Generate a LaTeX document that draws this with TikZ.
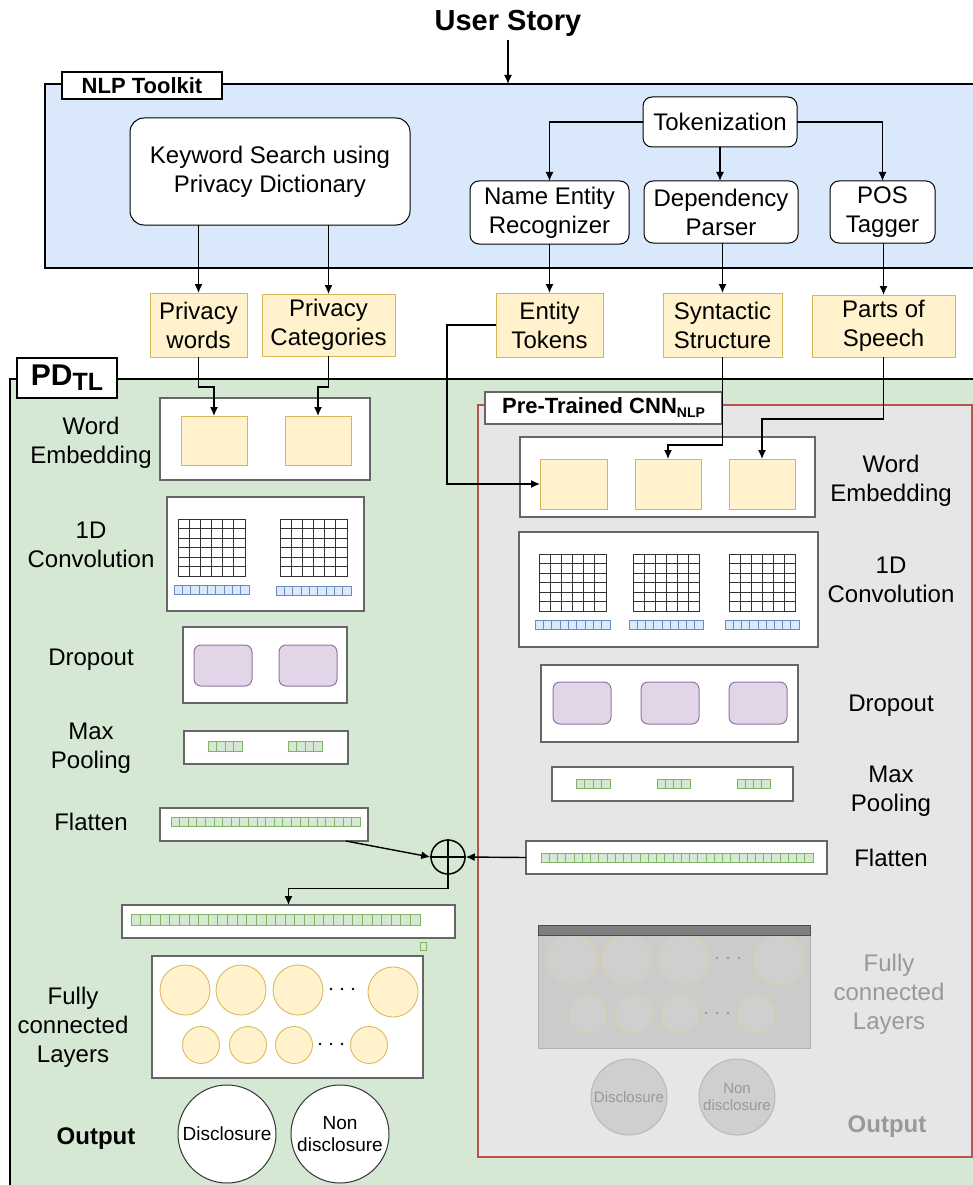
\documentclass[tikz,border=0pt]{standalone}
\usepackage{fontspec}
\setmainfont{Liberation Sans}
\usetikzlibrary{arrows.meta}
\definecolor{nlpblue}{HTML}{DAE8FC}
\definecolor{pdgreen}{HTML}{D5E8D4}
\definecolor{yf}{HTML}{FFF2CC}
\definecolor{yd}{HTML}{D6B656}
\definecolor{pf}{HTML}{E1D5E7}
\definecolor{pdd}{HTML}{9673A6}
\definecolor{gcf}{HTML}{D5E8D4}
\definecolor{gcd}{HTML}{82B366}
\definecolor{bcf}{HTML}{DAE8FC}
\definecolor{bcd}{HTML}{6C8EBF}
\definecolor{cgray}{HTML}{E6E6E6}
\definecolor{cred}{HTML}{B85450}
\definecolor{fgray}{HTML}{999999}
\definecolor{fcbody}{HTML}{CBCBCB}
\definecolor{fccirc}{HTML}{CFCFCF}
\definecolor{fcbar}{HTML}{7F7F7F}
\definecolor{fcring}{HTML}{DCD1A2}
\definecolor{framec}{HTML}{666666}

\newcommand\pdbox[7]{%
  \pgfmathsetmacro\pdcx{(#2+#4)/2}%
  \pgfmathsetmacro\pdcy{(#3+#5)/2}%
  \pgfmathsetmacro\pdw{#4-#2}%
  \pgfmathsetmacro\pdh{#5-#3}%
  \node[#6, minimum width=\pdw pt, minimum height=\pdh pt, inner sep=0pt, outer sep=0pt] (#1) at (\pdcx,\pdcy) {#7};}
\newcommand\pdgrid[4]{%
  \draw[gridline] (#1,#2) rectangle (#3,#4);
  \foreach \i in {1,...,5}{%
    \draw[gridline] ({#1+\i*(#3-#1)/6},#2) -- ({#1+\i*(#3-#1)/6},#4);
    \draw[gridline] (#1,{#2+\i*(#4-#2)/6}) -- (#3,{#2+\i*(#4-#2)/6});}}
\newcommand\pdcells[6]{%
  \foreach \i in {1,...,#5}{%
    \draw[#6] ({#1+(\i-1)*(#3-#1)/#5},#2) rectangle ({#1+\i*(#3-#1)/#5},#4);}}
\newcommand\pddots[3]{%
  \foreach \k in {0,1,2}{\fill[#3] ({#1+\k*11},#2) circle (1.4pt);}}

\begin{document}
\begin{tikzpicture}[x=1pt,y=-1pt,
  arr/.style={draw=black, line width=1.4pt, -{Latex[length=9pt,width=8pt]}},
  frame/.style={draw=framec, line width=1.3pt, fill=white},
  ybox/.style={draw=yd, fill=yf, line width=1pt},
  rbox/.style={draw=black, line width=1pt, fill=white, rounded corners=9pt, align=center, font=\txt},
  tbox/.style={draw=yd, fill=yf, line width=1pt, align=center, font=\txt},
  lbl/.style={align=center, font=\txt},
  glbl/.style={align=center, font=\txt, text=fgray},
  pbox/.style={draw=pdd, fill=pf, line width=1pt, rounded corners=7pt},
  gcell/.style={draw=gcd, fill=gcf, line width=0.6pt},
  bcell/.style={draw=bcd, fill=bcf, line width=0.6pt},
  gridline/.style={draw=black!80, line width=1pt},
  bigc/.style={circle, draw=yd, fill=yf, line width=0.8pt, minimum size=50pt, inner sep=0pt},
  smc/.style={circle, draw=yd, fill=yf, line width=0.8pt, minimum size=37pt, inner sep=0pt},
  gbigc/.style={circle, draw=fcring, fill=fccirc, line width=0.8pt, minimum size=50pt, inner sep=0pt},
  gsmc/.style={circle, draw=fcring, fill=fccirc, line width=0.8pt, minimum size=37pt, inner sep=0pt},
  outc/.style={circle, draw=black!80, fill=white, line width=1pt, minimum size=98pt, inner sep=0pt, align=center, font=\fontsize{19}{22}\selectfont},
  goutc/.style={circle, draw=black!28, fill=black!19, line width=1pt, minimum size=76pt, inner sep=0pt, align=center, font=\fontsize{15}{17}\selectfont, text=fgray}
]
\def\txt{\fontsize{24}{29}\selectfont}
\useasboundingbox (0,0) rectangle (973,1185);
\clip (0,0) rectangle (973,1185);
\fill[white] (0,0) rectangle (973,1185);

% title
\node[font=\bfseries\fontsize{29}{32}\selectfont] (title) at (508,23) {User Story};

% NLP toolkit
\pdbox{nlp}{45}{84}{995}{268}{draw=black, line width=1.4pt, fill=nlpblue}{}
\pdbox{nlpl}{62}{72}{222}{99}{draw=black, line width=1.4pt, fill=white, font=\bfseries\fontsize{22}{24}\selectfont}{NLP Toolkit}
\draw[arr] (title.south) -- (title.south |- nlp.north);

\pdbox{kw}{130}{118}{410}{225}{rbox, rounded corners=14pt}{Keyword Search using\\Privacy Dictionary}
\pdbox{tok}{643}{97}{797}{147}{rbox}{Tokenization}
\pdbox{ner}{470}{181}{629}{244}{rbox}{Name Entity\\Recognizer}
\pdbox{dep}{644}{181}{798}{243}{rbox}{Dependency\\Parser}
\pdbox{pos}{830}{181}{935}{243}{rbox}{POS\\Tagger}
\draw[arr] (tok.west) -| (ner.north);
\draw[arr] (tok.south) -- (tok.south |- dep.north);
\draw[arr] (tok.east) -| (pos.north);

% yellow token boxes
\pdbox{pw}{150}{293}{247}{357}{tbox}{Privacy\\words}
\pdbox{pc}{262}{294}{395}{356}{tbox}{Privacy\\Categories}
\pdbox{et}{496}{293}{603}{357}{tbox}{Entity\\Tokens}
\pdbox{ss}{663}{293}{782}{357}{tbox}{Syntactic\\Structure}
\pdbox{ps}{812}{295}{955}{357}{tbox}{Parts of\\Speech}
\draw[arr] (pw.north |- kw.south) -- (pw.north);
\draw[arr] (pc.north |- kw.south) -- (pc.north);
\draw[arr] (et.north |- ner.south) -- (et.north);
\draw[arr] (ss.north |- dep.south) -- (ss.north);
\draw[arr] (ps.north |- pos.south) -- (ps.north);

% PD_TL container
\pdbox{pd}{10}{379}{995}{1200}{draw=black, line width=1.4pt, fill=pdgreen}{}
\pdbox{pdl}{17}{358}{117}{398}{draw=black, line width=1.4pt, fill=white}{\bfseries\fontsize{30}{30}\selectfont PD\raisebox{-5pt}{\fontsize{25}{25}\selectfont TL}}

% pre-trained container
\pdbox{cnn}{478}{405}{972}{1157}{draw=cred, line width=1.6pt, fill=cgray}{}
\pdbox{cnnl}{485}{392}{722}{424}{draw=framec, line width=1.3pt, fill=white}{\bfseries\fontsize{22}{24}\selectfont Pre-Trained CNN\raisebox{-4pt}{\fontsize{14}{14}\selectfont NLP}}

% ---------- left column ----------
\node[lbl] (lwe) at (91,443) {Word\\Embedding};
\pdbox{weL}{160}{398}{370}{480}{frame}{}
\pdbox{yl1}{181}{416}{247}{465}{ybox}{}
\pdbox{yl2}{285}{416}{351}{465}{ybox}{}
\draw[arr] (pw.south) -- ++(0,30) -| (yl1.north);
\draw[arr] (pc.south) -- ++(0,31) -| (yl2.north);

\node[lbl] (lcv) at (91,545) {1D\\Convolution};
\pdbox{cvL}{167}{497}{364}{611}{frame}{}
\pdgrid{178}{519}{245}{576}
\pdgrid{280}{519}{347}{576}
\pdcells{174}{585}{249}{594}{9}{bcell}
\pdcells{276}{586}{351}{595}{9}{bcell}

\node[lbl] (ldo) at (91,660) {Dropout};
\pdbox{doL}{183}{627}{347}{703}{frame}{}
\pdbox{pl1}{194}{645}{252}{686}{pbox}{}
\pdbox{pl2}{279}{645}{337}{686}{pbox}{}

\node[lbl] (lmp) at (91,748) {Max\\Pooling};
\pdbox{mpL}{184}{731}{348}{764}{frame}{}
\pdcells{208}{741}{242}{751}{4}{gcell}
\pdcells{288}{741}{322}{751}{4}{gcell}

\node[lbl] (lfl) at (91,822) {Flatten};
\pdbox{flL}{160}{808}{368}{841}{frame}{}
\pdcells{171}{817}{360}{826}{22}{gcell}

% concat
\node[circle, draw=black, line width=1.5pt, minimum size=34pt, inner sep=0pt, fill=pdgreen] (op) at (448,857) {};
\draw[line width=1.5pt] (op.north) -- (op.south) (op.west) -- (op.east);
\pdbox{cat}{122}{905}{455}{938}{frame}{}
\pdcells{131}{914}{420}{925}{30}{gcell}
\draw[gcell] (420,942) rectangle (426,950);

% FC left
\node[lbl] (lfc) at (73,1027) {Fully\\connected\\Layers};
\pdbox{fcL}{152}{956}{423}{1078}{frame}{}
\node[bigc] (lb1) at (185,990) {};
\node[bigc] (lb2) at (241,990) {};
\node[bigc] (lb3) at (298,990) {};
\node[bigc] (lb4) at (393,992) {};
\pddots{331}{989}{black}
\node[smc] (ls1) at (201,1045) {};
\node[smc] (ls2) at (248,1045) {};
\node[smc] (ls3) at (294,1045) {};
\node[smc] (ls4) at (369,1045) {};
\pddots{320}{1044}{black}

\node[lbl, font=\bfseries\fontsize{24}{29}\selectfont] (lout) at (96,1139) {Output};
\node[outc] (od1) at (227,1134) {Disclosure};
\node[outc] (od2) at (340,1134) {Non\\disclosure};

% ---------- right column ----------
\node[lbl] (rwe) at (891,481) {Word\\Embedding};
\pdbox{weR}{520}{437}{815}{517}{frame}{}
\pdbox{yr1}{540}{459}{607}{509}{ybox}{}
\pdbox{yr2}{635}{459}{701}{509}{ybox}{}
\pdbox{yr3}{729}{459}{795}{509}{ybox}{}
\coordinate (etk) at (447,325);
\draw[arr] (et.west) -- (etk) |- (yr1.west);
\draw[arr] (ss.south) -- ++(0,88) -| (yr2.north);
\draw[arr] (ps.south) -- ++(0,62) -| (yr3.north);

\node[lbl] (rcv) at (891,580) {1D\\Convolution};
\pdbox{cvR}{519}{532}{818}{647}{frame}{}
\pdgrid{539}{554}{606}{611}
\pdgrid{633}{554}{699}{611}
\pdgrid{729}{554}{795}{611}
\pdcells{535}{620}{610}{629}{9}{bcell}
\pdcells{629}{620}{703}{629}{9}{bcell}
\pdcells{725}{620}{799}{629}{9}{bcell}

\node[lbl] (rdo) at (891,706) {Dropout};
\pdbox{doR}{541}{665}{798}{742}{frame}{}
\pdbox{pr1}{553}{682}{611}{724}{pbox}{}
\pdbox{pr2}{641}{682}{699}{724}{pbox}{}
\pdbox{pr3}{729}{682}{787}{724}{pbox}{}

\node[lbl] (rmp) at (891,791) {Max\\Pooling};
\pdbox{mpR}{552}{767}{793}{801}{frame}{}
\pdcells{576}{779}{610}{788}{4}{gcell}
\pdcells{657}{779}{690}{788}{4}{gcell}
\pdcells{737}{779}{770}{788}{4}{gcell}

\node[lbl] (rfl) at (891,858) {Flatten};
\pdbox{flR}{526}{841}{827}{874}{frame}{}
\pdcells{541}{853}{813}{862}{33}{gcell}

\draw[arr] ([xshift=-22pt]flL.south east) -- (op.west);
\draw[arr] (flR.west) -- (op.east);
\draw[arr] (op.south) -- ++(0,14) -| (cat.north);

% FC right (faded)
\pdbox{fcR}{538}{925}{810}{1048}{draw=black!30, line width=1pt, fill=fcbody}{}
\node[gbigc] (rb1) at (572,959) {};
\node[gbigc] (rb2) at (627,959) {};
\node[gbigc] (rb3) at (684,959) {};
\node[gbigc] (rb4) at (779,960) {};
\pddots{717}{958}{fgray}
\node[gsmc] (rs1) at (588,1014) {};
\node[gsmc] (rs2) at (634,1014) {};
\node[gsmc] (rs3) at (680,1014) {};
\node[gsmc] (rs4) at (756,1014) {};
\pddots{706}{1013}{fgray}
\fill[fcbar, draw=black!70, line width=0.8pt] (538,925) rectangle (810,935);
\node[glbl] (rfc) at (889,994) {Fully\\connected\\Layers};
\node[goutc] (rd1) at (629,1097) {Disclosure};
\node[goutc] (rd2) at (737,1097) {Non\\disclosure};
\node[glbl, font=\bfseries\fontsize{24}{29}\selectfont] (rout) at (887,1127) {Output};
\end{tikzpicture}
\end{document}
